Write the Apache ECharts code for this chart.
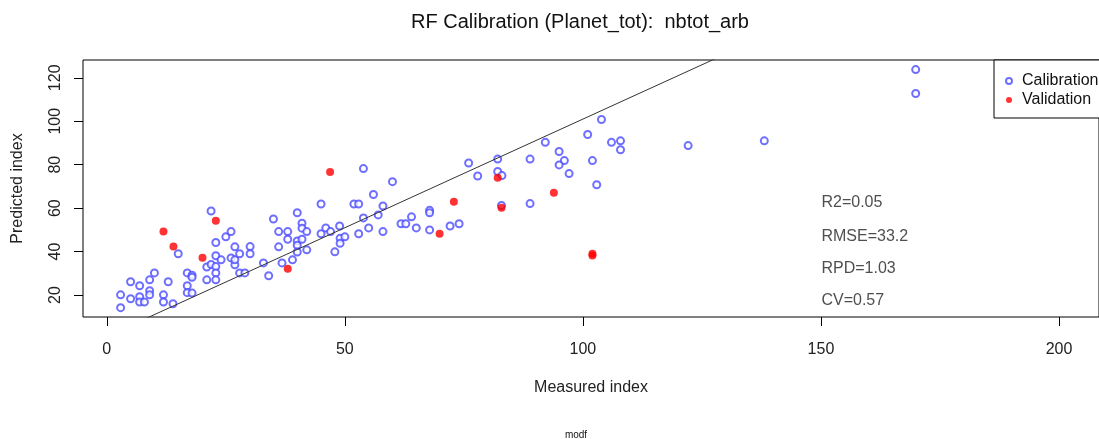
<!DOCTYPE html>
<html>
<head>
<meta charset="utf-8">
<script src="https://cdn.jsdelivr.net/npm/echarts/dist/echarts.min.js"></script>
<style>
  html, body { margin: 0; padding: 0; background: #fff; }
  #main { width: 1099px; height: 439px; }
</style>
</head>
<body>
<div id="main"></div>
<script>
// Calibration points (measured, predicted)
var calX = [2.9,2.9,5.0,5.0,6.9,6.9,6.9,7.9,9.0,9.0,9.0,10.0,11.9,11.9,12.9,13.9,15.0,16.9,16.9,16.9,
  17.9,17.9,17.9,21.0,21.0,21.9,21.9,22.9,22.9,22.9,22.9,22.9,24.0,25.0,26.1,26.1,26.9,26.9,26.9,27.9,
  27.9,29.0,30.1,30.1,
  32.9,34.0,35.0,36.1,36.1,36.8,38.0,38.0,39.0,40.0,40.0,40.0,40.0,41.0,41.0,41.0,42.0,42.0,45.0,45.0,
  46.0,47.0,47.9,48.9,49.0,49.0,50.0,51.9,52.9,52.9,53.9,53.9,55.0,56.0,57.0,58.0,58.0,60.0,
  61.8,62.8,64.0,65.0,67.8,67.8,67.8,72.1,74.0,76.0,77.9,82.1,82.1,83.0,82.9,88.9,88.9,92.1,95.0,96.1,
  95.0,102.0,97.1,102.9,101.0,103.9,106.0,107.9,107.9,122.1,138.1,169.9,169.9];
var calY = [20.1,14.2,26.1,18.3,24.3,19.2,16.8,16.8,27.0,22.0,20.1,30.2,20.1,16.8,26.1,16.0,39.0,30.2,24.3,21.1,
  29.1,28.2,20.9,27.0,32.9,58.7,34.1,44.2,38.1,33.1,30.2,27.0,36.2,46.8,49.2,37.1,42.2,33.9,36.2,39.0,
  30.2,30.2,42.3,39.0,
  34.8,28.9,55.0,49.2,42.2,34.8,49.2,45.7,36.2,57.9,44.9,42.9,39.8,53.1,50.8,45.7,49.2,40.8,61.9,48.2,
  50.9,49.2,39.9,51.8,46.1,43.8,46.8,61.9,61.9,48.2,78.2,55.5,50.9,66.3,56.9,61.0,49.2,72.2,
  52.8,52.8,56.0,50.9,59.0,57.9,50.0,51.8,52.8,80.8,74.8,82.6,76.9,75.0,61.2,82.6,62.1,90.3,86.1,81.9,
  79.9,81.9,75.9,70.8,93.9,100.8,90.3,91.0,86.9,88.8,91.0,123.8,112.8];

// Validation points
var valX = [11.9,14.0,20.1,22.9,38.0,46.9,69.9,72.9,82.1,82.9,93.9,102.0,102.0];
var valY = [49.2,42.3,37.2,54.2,32.1,76.6,48.2,63.0,74.0,60.2,67.1,39.0,38.2];

// Reference line (predicted = intercept + slope * measured)
var lineIntercept = 1;
var lineSlope = 1;

// Statistics written inside the plot
var statText = ['R2=0.05', 'RMSE=33.2', 'RPD=1.03', 'CV=0.57'];
var statX = 150;
var statY = [62.4, 46.9, 32.4, 17.5];

// Axis ticks
var xTicks = [0, 50, 100, 150, 200];
var yTicks = [20, 40, 60, 80, 100, 120];
var xMin = -5, xMax = 208.4;
var yMin = 9.9, yMax = 128.2;

var FONT = '"Liberation Sans", Arial, sans-serif';

function zip(a, b) {
  return a.map(function (v, i) { return [v, b[i]]; });
}

var grafico = echarts.init(document.getElementById('main'));

var option = {
  animation: false,
  textStyle: { fontFamily: FONT },
  grid: {
    left: 83, top: 60, bottom: 122, right: -10,
    show: true, borderColor: '#000', borderWidth: 1
  },
  legend: {
    data: ['Calibration', 'Validation'],
    orient: 'vertical',
    left: 994, top: 60,
    borderColor: '#000', borderWidth: 1, borderRadius: 0,
    backgroundColor: '#fff',
    padding: [12, 10, 9, 11],
    itemWidth: 16, itemHeight: 6, itemGap: 1,
    textStyle: { fontFamily: FONT, fontSize: 16, color: '#111', lineHeight: 18 }
  },
  xAxis: {
    type: 'value', min: xMin, max: xMax,
    axisLine: { show: false, onZero: false },
    splitLine: { show: false },
    axisTick: { show: true, length: 9, customValues: xTicks, lineStyle: { color: '#000' } },
    axisLabel: { customValues: xTicks, fontSize: 16, color: '#222', margin: 25, fontFamily: FONT },
    name: 'Measured index', nameLocation: 'middle', nameGap: 63,
    nameTextStyle: { fontSize: 16, color: '#222', fontFamily: FONT }
  },
  yAxis: {
    type: 'value', min: yMin, max: yMax,
    axisLine: { show: false, onZero: false },
    splitLine: { show: false },
    axisTick: { show: true, length: 9, customValues: yTicks, lineStyle: { color: '#000' } },
    axisLabel: { customValues: yTicks, rotate: 90, fontSize: 16, color: '#222', margin: 19, fontFamily: FONT },
    name: 'Predicted index', nameLocation: 'middle', nameGap: 57, nameRotate: 90,
    nameTextStyle: { fontSize: 16, color: '#222', fontFamily: FONT }
  },
  graphic: [
    { type: 'text', x: 580, y: 22,
      style: { text: 'RF Calibration (Planet_tot):  nbtot_arb', font: '20px ' + FONT,
               fill: '#111', textAlign: 'center', textVerticalAlign: 'middle' } },
    { type: 'text', x: 576, y: 435,
      style: { text: 'modf', font: '10px ' + FONT, fill: '#111',
               textAlign: 'center', textVerticalAlign: 'middle' } }
  ],
  series: [
    {
      name: 'Calibration', type: 'scatter',
      symbol: 'emptyCircle', symbolSize: 7,
      itemStyle: { color: '#4b4bff', borderColor: '#4040ff', borderWidth: 1.2 },
      data: zip(calX, calY), z: 2
    },
    {
      name: 'Validation', type: 'scatter',
      symbol: 'circle', symbolSize: 8,
      itemStyle: { color: '#ff0000' },
      data: zip(valX, valY), z: 3
    },
    {
      name: 'line', type: 'line', symbol: 'none', clip: true,
      lineStyle: { color: '#333', width: 1 },
      data: [[xMin, lineIntercept + lineSlope * xMin], [xMax, lineIntercept + lineSlope * xMax]],
      z: 4, silent: true
    },
    {
      name: 'stats', type: 'scatter', symbolSize: 1, silent: true,
      itemStyle: { color: 'rgba(0,0,0,0)' },
      label: {
        show: true, position: 'right', distance: 0,
        fontSize: 16, color: '#222', fontFamily: FONT,
        formatter: function (p) { return statText[p.dataIndex]; }
      },
      data: statY.map(function (y) { return [statX, y]; })
    }
  ]
};

grafico.setOption(option);
</script>
</body>
</html>
